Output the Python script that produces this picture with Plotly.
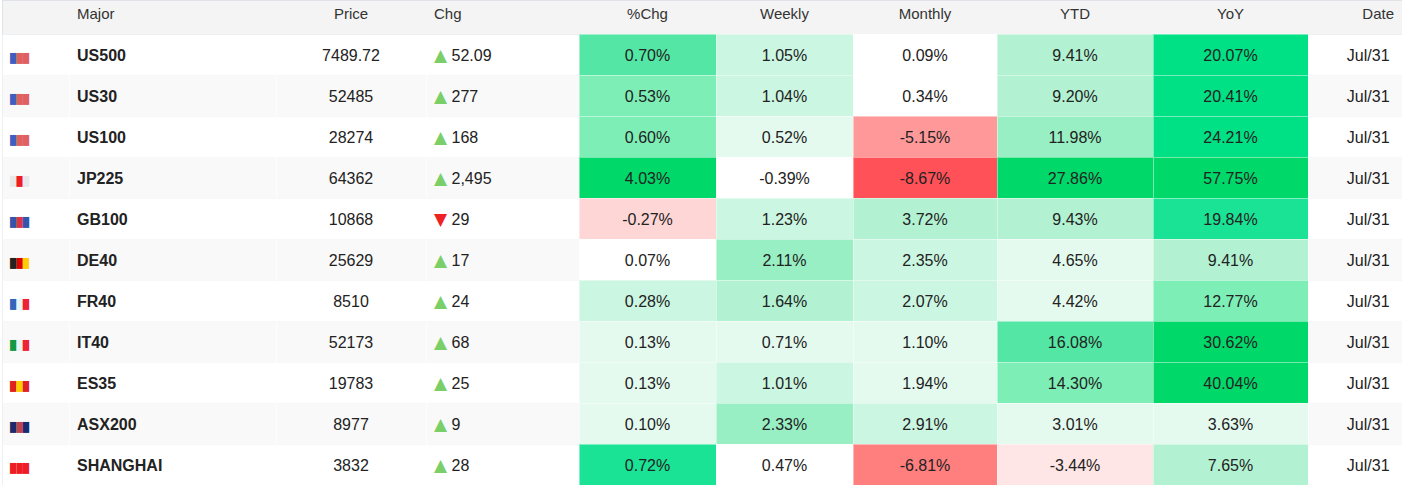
import plotly.graph_objects as go

names = ["US500", "US30", "US100", "JP225", "GB100", "DE40", "FR40", "IT40", "ES35", "ASX200", "SHANGHAI"]
prices = ["7489.72", "52485", "28274", "64362", "10868", "25629", "8510", "52173", "19783", "8977", "3832"]
chg = [52.09, 277, 168, 2495, -29, 17, 24, 68, 25, 9, 28]
pct_chg = [0.70, 0.53, 0.60, 4.03, -0.27, 0.07, 0.28, 0.13, 0.13, 0.10, 0.72]
weekly = [1.05, 1.04, 0.52, -0.39, 1.23, 2.11, 1.64, 0.71, 1.01, 2.33, 0.47]
monthly = [0.09, 0.34, -5.15, -8.67, 3.72, 2.35, 2.07, 1.10, 1.94, 2.91, -6.81]
ytd = [9.41, 9.20, 11.98, 27.86, 9.43, 4.65, 4.42, 16.08, 14.30, 3.01, -3.44]
yoy = [20.07, 20.41, 24.21, 57.75, 19.84, 9.41, 12.77, 30.62, 40.04, 3.63, 7.65]
dates = ["Jul/31"] * 11
headers = ["", "Major", "Price", "Chg", "%Chg", "Weekly", "Monthly", "YTD", "YoY", "Date"]

# heat shades, one code per cell of the five % columns
shades = {
    "w": "#ffffff",
    "g1": "#e5faef", "g2": "#cbf6e1", "g3": "#b2f2d2", "g4": "#98efc3",
    "g5": "#7deeb6", "g6": "#54e6a4", "g7": "#1ae395", "g8": "#00e085", "g9": "#00d86a",
    "r0": "#ffe6e6", "r1": "#ffd6d6", "r2": "#ff9999", "r3": "#ff7f7f", "r4": "#ff5157",
}
shade_pct = ["g6", "g5", "g5", "g9", "r1", "w", "g2", "g1", "g1", "g1", "g7"]
shade_week = ["g2", "g2", "g1", "w", "g2", "g4", "g3", "g1", "g2", "g4", "w"]
shade_month = ["w", "w", "r2", "r4", "g3", "g2", "g2", "g1", "g1", "g2", "r3"]
shade_ytd = ["g3", "g3", "g4", "g9", "g3", "g1", "g1", "g6", "g5", "g1", "r0"]
shade_yoy = ["g8", "g8", "g8", "g9", "g7", "g3", "g5", "g9", "g9", "g1", "g3"]

flag_colors = {
    "US500": ["#3f5fc0", "#e06060", "#e06060"],
    "US30": ["#3f5fc0", "#e06060", "#e06060"],
    "US100": ["#3f5fc0", "#e06060", "#e06060"],
    "JP225": ["#e8e8e8", "#ee1c25", "#e8e8e8"],
    "GB100": ["#3355aa", "#dd3344", "#3355aa"],
    "DE40": ["#222222", "#dd0000", "#ffcc00"],
    "FR40": ["#3366bb", "#eef0f4", "#ee2233"],
    "IT40": ["#119944", "#eef0ee", "#ee2233"],
    "ES35": ["#dd2222", "#ffcc00", "#dd2222"],
    "ASX200": ["#1a2a6c", "#c04050", "#1a2a6c"],
    "SHANGHAI": ["#ee1c25", "#ee1c25", "#ee1c25"],
}

# plotly tables top-align text; a raised invisible space widens the text box
# upwards so the line sits in the middle of the 41px rows.
# the trailing <br> stops plotly's auto wrapping (which breaks the spans)
PAD = "<sup><span style=\"font-family:'Noto Sans';font-size:11px;color:rgba(0,0,0,0)\">\u00a0</span></sup>"


def lift(text, align):
    if align == "left":
        return text + PAD + "<br>"
    if align == "right":
        return PAD + text + "<br>"
    return PAD + text + PAD + "<br>"


def flag(name):
    return "".join('<span style="color:%s;font-size:9px">█</span>' % c for c in flag_colors[name])


def fmt_chg(v):
    style = "font-family:'DejaVu Sans';font-size:17px;color:%s"
    if v >= 0:
        arrow = '<span style="%s">▲</span>' % (style % "#7bcf69")
    else:
        arrow = '<span style="%s">▼</span>' % (style % "#ee2222")
    num = "%.2f" % abs(v) if v != int(v) else "{:,}".format(abs(int(v)))
    return arrow + "\u00a0" + num


def pct(vals):
    return ["%.2f%%" % v for v in vals]


n = len(names)
row_bg = ["#ffffff" if i % 2 == 0 else "#f9f9f9" for i in range(n)]
clear = ["rgba(0,0,0,0)"] * n
aligns = ["left", "left", "center", "left", "center", "center", "center", "center", "center", "right"]

raw_cols = [
    [flag(x) for x in names],
    ["<b>%s</b>" % x for x in names],
    prices,
    [fmt_chg(v) for v in chg],
    pct(pct_chg), pct(weekly), pct(monthly), pct(ytd), pct(yoy),
    [d + "\u00a0" for d in dates],
]
cols = [[lift(t, a) for t in col] for col, a in zip(raw_cols, aligns)]

fills = [clear, clear, clear, clear,
         [shades[s] for s in shade_pct],
         [shades[s] for s in shade_week],
         [shades[s] for s in shade_month],
         [shades[s] for s in shade_ytd],
         [shades[s] for s in shade_yoy],
         clear]
font_family = "Liberation Sans, Arial, sans-serif"

# row stripes and horizontal rules
rows = go.Table(
    columnwidth=[1],
    header=dict(values=[""], fill_color="#f4f4f4", line=dict(color="#dfe3e8", width=1), height=34),
    cells=dict(values=[[""] * n], fill_color=[row_bg], line=dict(color="#dfe3e8", width=1), height=41),
)

grid = go.Table(
    columnwidth=[67, 207, 150, 153, 137, 137, 144, 156, 155, 94],
    header=dict(
        values=headers,
        fill_color="rgba(0,0,0,0)",
        line=dict(width=0),
        align=aligns,
        font=dict(family=font_family, size=15, color="#333333"),
        height=34,
    ),
    cells=dict(
        values=cols,
        fill_color=fills,
        line=dict(color="rgba(255,255,255,0.45)", width=1),
        align=aligns,
        font=dict(family=font_family, size=16, color="#222222"),
        height=41,
    ),
)

fig = go.Figure(data=[rows, grid])
fig.update_layout(
    width=1402, height=485,
    margin=dict(l=2, r=0, t=0, b=0),
    paper_bgcolor="#ffffff",
)
fig.write_html("out.html", config={"displayModeBar": False},
               post_script="document.body.style.margin='0px';")
